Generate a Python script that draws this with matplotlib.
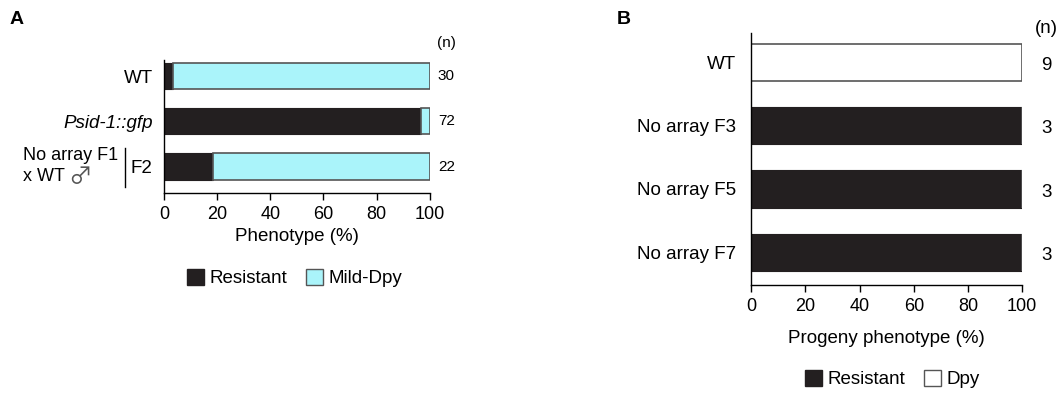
import matplotlib.pyplot as plt
from matplotlib.patches import Patch

# panel A
a_labels = ["WT", "Psid-1::gfp", "F2"]
a_resistant = [3.5, 96.5, 18.5]
a_mild_dpy = [96.5, 3.5, 81.5]
a_n = [30, 72, 22]

# panel B
b_labels = ["WT", "No array F3", "No array F5", "No array F7"]
b_resistant = [0, 100, 100, 100]
b_dpy = [100, 0, 0, 0]
b_n = [9, 3, 3, 3]

black = "#231f20"
cyan = "#aaf4fa"
edge = "#555555"
fs = 13.5

plt.rcParams['font.family'] = ['Liberation Sans', 'DejaVu Sans']

fig = plt.figure(figsize=(10.64, 3.95), dpi=100)
axA = fig.add_axes([0.154, 0.511, 0.250, 0.337])
axB = fig.add_axes([0.706, 0.278, 0.2547, 0.638])

for ax in (axA, axB):
    for s in ("top", "right"):
        ax.spines[s].set_visible(False)
    ax.spines["left"].set_linewidth(1.0)
    ax.spines["bottom"].set_linewidth(1.0)
    ax.set_xlim(0, 100)
    ax.set_xticks([0, 20, 40, 60, 80, 100])
    ax.tick_params(axis="x", direction="out", length=5, width=1, labelsize=13, pad=4)
    ax.tick_params(axis="y", length=0, labelsize=fs)

# A
ya = list(range(len(a_labels)))
axA.barh(ya, a_resistant, height=0.58, color=black, edgecolor=black, linewidth=0.8)
axA.barh(ya, a_mild_dpy, left=a_resistant, height=0.58, color=cyan, edgecolor=edge, linewidth=1.2)
axA.set_ylim(2.59, -0.36)
axA.set_yticks(ya)
axA.set_yticklabels(a_labels)
axA.tick_params(axis="y", pad=8)
axA.get_yticklabels()[1].set_style("italic")
axA.set_xlabel("Phenotype (%)", fontsize=fs, labelpad=4)
for y, n in zip(ya, a_n):
    axA.text(103, y, str(n), va="center", ha="left", fontsize=11, clip_on=False)
axA.text(102.5, -0.73, "(n)", va="center", ha="left", fontsize=11, clip_on=False)
# cross annotation beside the F2 row
fig.text(23 / 1064, 1 - 155 / 395, "No array F1", fontsize=13, ha="left", va="center")
fig.text(23 / 1064, 1 - 177 / 395, "x WT", fontsize=13, ha="left", va="center")
fig.text(68 / 1064, 1 - 178 / 395, "\u2642", fontsize=17, ha="left", va="center",
         family=["Noto Sans CJK JP", "DejaVu Sans"], color="#555555")
fig.add_artist(plt.Line2D([125 / 1064, 125 / 1064], [1 - 148 / 395, 1 - 187 / 395],
                          color="black", linewidth=1.0))

# B
yb = list(range(len(b_labels)))
axB.barh(yb, b_resistant, height=0.59, color=black, edgecolor=black, linewidth=0.8)
axB.barh(yb, b_dpy, left=b_resistant, height=0.59, color="white", edgecolor=edge, linewidth=1.2)
axB.set_ylim(3.52, -0.46)
axB.set_yticks(yb)
axB.set_yticklabels(b_labels)
axB.tick_params(axis="y", pad=11)
axB.set_xlabel("Progeny phenotype (%)", fontsize=fs, labelpad=11)
for y, n in zip(yb, b_n):
    axB.text(109, y + 0.05, str(n), va="center", ha="center", fontsize=fs, clip_on=False)
axB.text(109, -0.53, "(n)", va="center", ha="center", fontsize=fs, clip_on=False)

# legends
legend_kw = dict(loc="center", ncol=2, frameon=False, fontsize=fs, handlelength=0.9,
                 handleheight=1.0, handletextpad=0.3, columnspacing=1.0)
fig.legend(handles=[Patch(facecolor=black, edgecolor=black, label="Resistant"),
                    Patch(facecolor=cyan, edgecolor=edge, label="Mild-Dpy")],
           bbox_to_anchor=(295 / 1064, 1 - 278 / 395), **legend_kw)
fig.legend(handles=[Patch(facecolor=black, edgecolor=black, label="Resistant"),
                    Patch(facecolor="white", edgecolor=edge, label="Dpy")],
           bbox_to_anchor=(892 / 1064, 1 - 379 / 395), **legend_kw)

fig.text(10 / 1064, 1 - 19 / 395, "A", fontsize=14, fontweight="bold", va="center")
fig.text(617 / 1064, 1 - 19 / 395, "B", fontsize=14, fontweight="bold", va="center")

fig.savefig("out.png", dpi=100)
